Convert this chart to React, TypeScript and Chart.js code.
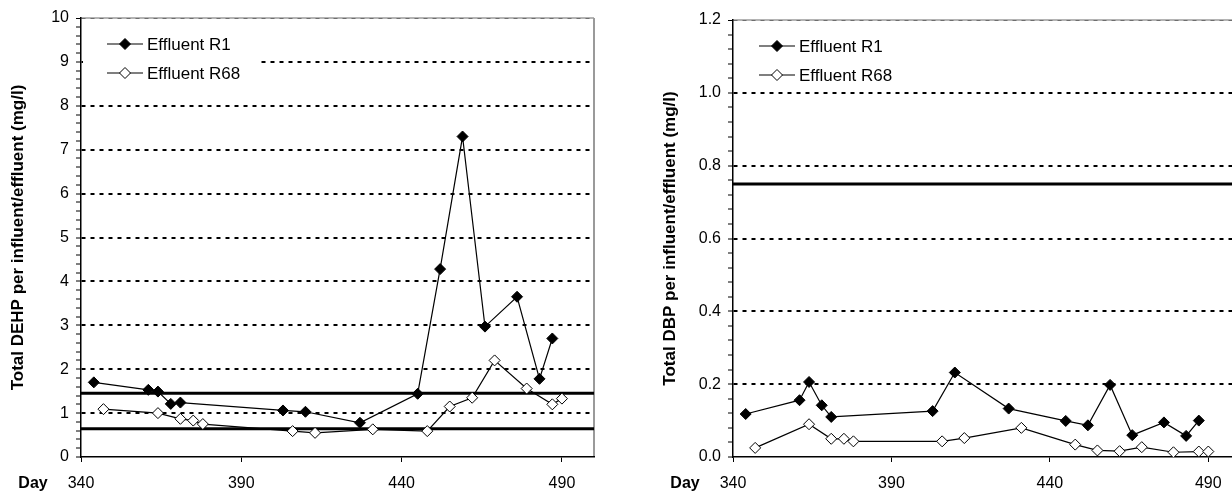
import { useEffect, useRef } from 'react';
import { Chart, registerables } from 'chart.js';

Chart.register(...registerables);

const FONT = "'Liberation Sans', Arial, Helvetica, sans-serif";

// Sampling days of the two reactor effluents
const daysR1 = [344, 361, 364, 368, 371, 403, 410, 427, 445, 452, 459, 466, 476, 483, 487];
const daysR68 = [347, 364, 371, 375, 378, 406, 413, 431, 448, 455, 462, 469, 479, 487, 490];

// Total DEHP (mg/l)
const dehpR1 = [1.7, 1.53, 1.49, 1.21, 1.24, 1.06, 1.03, 0.78, 1.44, 4.28, 7.3, 2.97, 3.65, 1.78, 2.7];
const dehpR68 = [1.09, 1.0, 0.87, 0.83, 0.75, 0.59, 0.55, 0.63, 0.59, 1.15, 1.35, 2.2, 1.56, 1.2, 1.33];
const dehpLimits = [1.45, 0.645];

// Total DBP (mg/l)
const dbpR1 = [0.118, 0.156, 0.206, 0.142, 0.11, 0.126, 0.232, 0.133, 0.099, 0.087, 0.198, 0.06, 0.095, 0.058, 0.1];
const dbpR68 = [0.025, 0.09, 0.05, 0.05, 0.043, 0.043, 0.052, 0.08, 0.034, 0.018, 0.016, 0.027, 0.013, 0.015, 0.015];
const dbpLimits = [0.75];

const seriesLabels = ['Effluent R1', 'Effluent R68'];
const dayRange = [340, 500];
const dayTicks = [340, 390, 440, 490];
const xAxisLabel = 'Day';

type PanelProps = {
  r1: number[];
  r68: number[];
  limits: number[];
  yMax: number;
  minorStep: number;
  majorStep: number;
  decimals: number;
  title: string;
  left: number;
  width: number;
  padTop: number;
};

function diamond(ctx: CanvasRenderingContext2D, x: number, y: number, r: number, fill: string) {
  ctx.beginPath();
  ctx.moveTo(x, y - r);
  ctx.lineTo(x + r, y);
  ctx.lineTo(x, y + r);
  ctx.lineTo(x - r, y);
  ctx.closePath();
  ctx.fillStyle = fill;
  ctx.fill();
  ctx.lineWidth = 1;
  ctx.strokeStyle = '#000';
  ctx.stroke();
}

// Plot frame, in-plot legend and the "Day" caption
const panelDecor = {
  id: 'panelDecor',
  beforeDraw(chart: any) {
    const { ctx, chartArea: a } = chart;
    ctx.save();
    ctx.strokeStyle = '#b4b4b4';
    ctx.lineWidth = 2;
    ctx.beginPath();
    ctx.moveTo(a.left, a.top);
    ctx.lineTo(a.right, a.top);
    ctx.stroke();
    ctx.strokeStyle = '#9a9a9a';
    ctx.beginPath();
    ctx.moveTo(a.right, a.top);
    ctx.lineTo(a.right, a.bottom);
    ctx.stroke();
    ctx.restore();
  },
  afterDraw(chart: any) {
    const { ctx, chartArea: a } = chart;
    ctx.save();
    ctx.fillStyle = '#fff';
    ctx.fillRect(a.left + 2, a.top + 10, 176, 60);
    const fills = ['#000', '#fff'];
    seriesLabels.forEach((label, i) => {
      const y = a.top + 26 + i * 29;
      ctx.strokeStyle = '#000';
      ctx.lineWidth = 1.2;
      ctx.beginPath();
      ctx.moveTo(a.left + 26, y);
      ctx.lineTo(a.left + 62, y);
      ctx.stroke();
      diamond(ctx, a.left + 44, y, 5.5, fills[i]);
      ctx.fillStyle = '#000';
      ctx.font = `17px ${FONT}`;
      ctx.textBaseline = 'middle';
      ctx.textAlign = 'left';
      ctx.fillText(label, a.left + 66, y + 1);
    });
    ctx.font = `bold 16px ${FONT}`;
    ctx.textAlign = 'center';
    ctx.textBaseline = 'middle';
    ctx.fillStyle = '#000';
    ctx.fillText(xAxisLabel, a.left - 48, a.bottom + 27);
    ctx.restore();
  },
};

function Panel(p: PanelProps) {
  const ref = useRef<HTMLCanvasElement>(null);

  useEffect(() => {
    const canvas = ref.current;
    if (!canvas) return;
    const pts = (days: number[], vals: number[]) => days.map((d, i) => ({ x: d, y: vals[i] }));
    const isMajor = (v: number) => Math.abs(v / p.majorStep - Math.round(v / p.majorStep)) < 1e-6;
    const near = (a: number, b: number) => Math.abs(a - b) < 1e-6;

    const chart = new Chart(canvas, {
      type: 'line',
      data: {
        datasets: [
          {
            label: seriesLabels[0],
            data: pts(daysR1, p.r1),
            borderColor: '#000',
            borderWidth: 1.2,
            pointStyle: 'rectRot',
            pointRadius: 5.5,
            pointBackgroundColor: '#000',
            pointBorderColor: '#000',
            pointBorderWidth: 1,
            fill: false,
            tension: 0,
          },
          {
            label: seriesLabels[1],
            data: pts(daysR68, p.r68),
            borderColor: '#000',
            borderWidth: 1.2,
            pointStyle: 'rectRot',
            pointRadius: 5.5,
            pointBackgroundColor: '#fff',
            pointBorderColor: '#000',
            pointBorderWidth: 1,
            fill: false,
            tension: 0,
          },
          ...p.limits.map((v) => ({
            label: '',
            data: [
              { x: dayRange[0], y: v },
              { x: dayRange[1], y: v },
            ],
            borderColor: '#000',
            borderWidth: 3,
            pointRadius: 0,
            fill: false,
          })),
        ],
      },
      options: {
        responsive: false,
        animation: false,
        events: [],
        layout: { padding: { left: 0, top: p.padTop, right: 22, bottom: 0 } },
        plugins: {
          legend: { display: false },
          tooltip: { enabled: false },
        },
        scales: {
          x: {
            type: 'linear',
            min: dayRange[0],
            max: dayRange[1],
            afterBuildTicks: (s: any) => {
              s.ticks = dayTicks.map((v) => ({ value: v }));
            },
            afterFit: (s: any) => {
              s.height = 36;
            },
            ticks: {
              autoSkip: false,
              maxRotation: 0,
              color: '#000',
              font: { family: FONT, size: 16 },
              padding: 12,
            },
            grid: {
              drawOnChartArea: false,
              drawTicks: true,
              tickLength: 5,
              tickColor: '#000',
              tickWidth: 1,
            },
            border: { color: '#000', width: 1.5 },
          },
          y: {
            type: 'linear',
            min: 0,
            max: p.yMax,
            afterFit: (s: any) => {
              s.width = 81;
            },
            ticks: {
              stepSize: p.minorStep,
              maxTicksLimit: 1000,
              autoSkip: false,
              color: '#000',
              font: { family: FONT, size: 16 },
              padding: 7,
              callback: (v: any) => (isMajor(Number(v)) ? Number(v).toFixed(p.decimals) : ''),
            },
            grid: {
              drawOnChartArea: true,
              drawTicks: true,
              tickLength: 5,
              tickColor: '#000',
              tickWidth: 1,
              color: (c: any) => {
                const v = c.tick ? c.tick.value : 0;
                if (near(v, 0)) return 'rgba(0,0,0,0)';
                if (near(v, p.yMax)) return '#6e6e6e';
                return isMajor(v) ? '#000' : 'rgba(0,0,0,0)';
              },
              lineWidth: (c: any) => {
                const v = c.tick ? c.tick.value : 0;
                return near(v, p.yMax) ? 1 : 2;
              },
            },
            border: { color: '#000', width: 1.5, dash: [4, 5] },
            title: {
              display: true,
              text: p.title,
              color: '#000',
              font: { family: FONT, size: 17, weight: 'bold' },
              padding: { top: 8, bottom: 0 },
            },
          },
        },
      },
      plugins: [panelDecor],
    } as any);

    return () => chart.destroy();
  }, []);

  return (
    <canvas
      ref={ref}
      width={p.width}
      height={493}
      style={{ position: 'absolute', left: p.left, top: 0, width: p.width, height: 493 }}
    />
  );
}

export default function App() {
  return (
    <div
      style={{
        position: 'absolute',
        left: 0,
        top: 0,
        width: 1232,
        height: 493,
        overflow: 'hidden',
        background: '#fff',
      }}
    >
      <Panel
        r1={dehpR1}
        r68={dehpR68}
        limits={dehpLimits}
        yMax={10}
        minorStep={0.2}
        majorStep={1}
        decimals={0}
        title="Total DEHP per influent/effluent (mg/l)"
        left={0}
        width={616}
        padTop={18}
      />
      <Panel
        r1={dbpR1}
        r68={dbpR68}
        limits={dbpLimits}
        yMax={1.2}
        minorStep={0.04}
        majorStep={0.2}
        decimals={1}
        title="Total DBP per influent/effluent (mg/l)"
        left={652}
        width={610}
        padTop={20}
      />
    </div>
  );
}
